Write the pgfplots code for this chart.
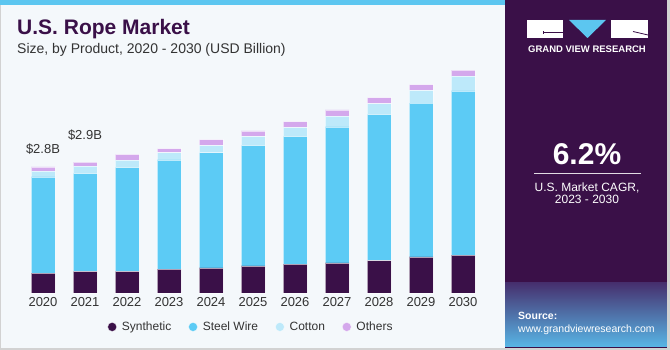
\documentclass[border=0pt]{standalone}
\usepackage{pgfplots}
\pgfplotsset{compat=1.18}
\usepackage{pgfplotstable}
\usepackage{fontspec}
\setmainfont{Liberation Sans}
\definecolor{synth}{HTML}{3A1048}
\definecolor{steel}{HTML}{5CCBF5}
\definecolor{cotton}{HTML}{BDE9FA}
\definecolor{others}{HTML}{D4A8EC}
\definecolor{bg}{HTML}{F4F8FB}
\definecolor{panel}{HTML}{3A1048}
\definecolor{topbar}{HTML}{5CC6F0}
\definecolor{txt}{HTML}{333333}
\definecolor{gradtop}{HTML}{46306E}
\definecolor{gradbot}{HTML}{58B6E6}

\pgfplotstableread{
x synth steel cotton others
0 0.44 2.14 0.13 0.09
1 0.48 2.18 0.16 0.09
2 0.48 2.31 0.16 0.13
3 0.53 2.43 0.16 0.09
4 0.56 2.56 0.16 0.13
5 0.60 2.68 0.20 0.12
6 0.64 2.84 0.20 0.13
7 0.67 3.02 0.24 0.14
8 0.72 3.25 0.24 0.13
9 0.80 3.42 0.28 0.13
10 0.84 3.65 0.33 0.13
}\datatable

\begin{document}
\begin{tikzpicture}
\begin{scope}[x=1pt,y=1pt]
% backgrounds
\fill[bg] (0,0) rectangle (670,350);
\fill[gray!35] (0,0) rectangle (670,2);
\fill[gray!35] (0,0) rectangle (1.2,350);
\fill[topbar] (0,345) rectangle (505,350);
\fill[panel] (505,2) rectangle (667,350);
\shade[top color=gradtop, bottom color=gradbot] (505,3) rectangle (667,67);
\fill[gray!35] (667,0) rectangle (670,350);
% title
\node[anchor=base west, inner sep=0, text=synth, font=\bfseries\fontsize{21}{21}\selectfont] at (17,315) {U.S. Rope Market};
\node[anchor=base west, inner sep=0, text=txt, font=\fontsize{14}{14}\selectfont] at (17,296) {Size, by Product, 2020 - 2030 (USD Billion)};
% logo
\fill[white] (527,312) rectangle (563,330);
\draw[panel, line width=0.8pt] (543,318) -- (563,318);
\draw[panel, line width=0.8pt] (543,316) -- (543,319);
\fill[topbar] (569,330) -- (606,330) -- (587.5,312) -- cycle;
\fill[white] (611,312) rectangle (648,330);
\draw[panel, line width=0.8pt] (633,318.5) -- (648,315);
\node[anchor=base, inner sep=0, text=white, font=\bfseries\fontsize{9.5}{9.5}\selectfont] at (587,297) {GRAND VIEW RESEARCH};
% CAGR
\node[anchor=base, inner sep=0, text=white, font=\bfseries\fontsize{30}{30}\selectfont] at (587,185) {6.2\%};
\draw[white!85!panel, line width=0.9pt] (534,177) -- (641,177);
\node[anchor=base, inner sep=0, text=white, font=\fontsize{12}{12}\selectfont] at (587,158) {U.S. Market CAGR,};
\node[anchor=base, inner sep=0, text=white, font=\fontsize{12}{12}\selectfont] at (587,146) {2023 - 2030};
% source
\node[anchor=base west, inner sep=0, text=white, font=\bfseries\fontsize{10.5}{10.5}\selectfont] at (518,30) {Source:};
\node[anchor=base west, inner sep=0, text=white, font=\fontsize{10.5}{10.5}\selectfont] at (518,17) {www.grandviewresearch.com};
\end{scope}

\begin{axis}[
  at={(22pt,57pt)}, anchor=south west,
  scale only axis, width=462pt, height=234pt,
  xmin=-0.5, xmax=10.5, ymin=0, ymax=5.2,
  enlargelimits=false, clip=false,
  ybar stacked, bar width=24pt,
  axis line style={draw=none},
  ytick=\empty,
  xtick={0,...,10},
  xticklabels={2020,2021,2022,2023,2024,2025,2026,2027,2028,2029,2030},
  major tick length=0pt,
  /pgf/number format/assume math mode=true,
  xticklabel style={font=\fontsize{13}{13}\selectfont, text=txt, yshift=-1pt},
  legend columns=4,
  legend style={draw=none, fill=none, at={(0.178,-0.145)}, anchor=west,
    font=\fontsize{12}{12}\selectfont, text=txt,
    /tikz/every odd column/.append style={column sep=3pt},
    /tikz/every even column/.append style={column sep=15pt}},
  legend image code/.code={\fill[#1] (4.5pt,0pt) circle (4.5pt);},
  every axis plot/.append style={draw=white, line width=0.5pt, draw opacity=0.6},
]
\addplot[fill=synth] table[x=x, y=synth] {\datatable};
\addplot[fill=steel] table[x=x, y=steel] {\datatable};
\addplot[fill=cotton] table[x=x, y=cotton] {\datatable};
\addplot[fill=others] table[x=x, y=others] {\datatable};
\legend{Synthetic, Steel Wire, Cotton, Others}
\node[anchor=base, inner sep=0, text=txt, font=\fontsize{13}{13}\selectfont] at (axis cs:0,3.11) {\$2.8B};
\node[anchor=base, inner sep=0, text=txt, font=\fontsize{13}{13}\selectfont] at (axis cs:1,3.40) {\$2.9B};
\end{axis}
\end{tikzpicture}
\end{document}
